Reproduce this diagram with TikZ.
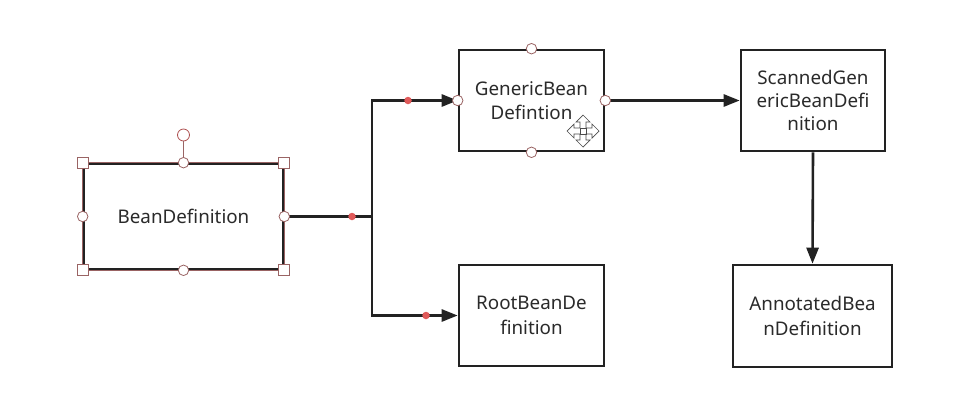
\documentclass[tikz,border=0pt]{standalone}
\usepackage{fontspec}
\setmainfont{Noto Sans}
\usetikzlibrary{arrows.meta}
\definecolor{edge}{HTML}{222222}
\definecolor{txt}{HTML}{2A2A2A}
\definecolor{handle}{HTML}{9A6464}
\definecolor{dotred}{HTML}{E05A5A}
\begin{document}
\begin{tikzpicture}[x=1pt,y=-1pt,
  box/.style={draw=edge, line width=2.6pt, fill=white, text=txt, align=center,
    font=\fontsize{18.8}{24.5}\selectfont, inner sep=2pt},
  conn/.style={draw=edge, line width=2.6pt},
  tip/.style={-{Triangle[length=16pt,width=12pt]}},
  hcirc/.style={circle, draw=handle, fill=white, line width=0.8pt, minimum size=10.5pt, inner sep=0pt},
  hsq/.style={rectangle, draw=handle, fill=white, line width=0.8pt, minimum size=11pt, inner sep=0pt},
  rdot/.style={circle, fill=dotred, minimum size=7.5pt, inner sep=0pt}]
\useasboundingbox (0,0) rectangle (974,413);
% boxes
\node[box, minimum width=199pt, minimum height=105pt] (bd) at (183.5,216.5) {BeanDefinition};
\node[box, minimum width=145pt, minimum height=101pt] (gb) at (531.5,100.5) {GenericBean\\Defintion};
\node[box, minimum width=145pt, minimum height=101pt] (rb) at (531.5,315.5) {RootBeanDe\\finition};
\node[box, minimum width=144pt, minimum height=101pt, font=\fontsize{18.8}{23}\selectfont] (sg) at (813,100.5) {ScannedGen\\ericBeanDefi\\nition};
\node[box, minimum width=159pt, minimum height=102pt] (ab) at (812.5,316) {AnnotatedBea\\nDefinition};
% connectors
\coordinate (j) at (372,216.5);
\draw[conn] (bd.east) -- (j);
\draw[conn, tip] (j) |- (gb.west);
\draw[conn, tip] (j) |- (rb.west);
\draw[conn, tip] (gb.east) -- (sg.west);
\draw[conn, tip] (sg.south) -- (ab.north);
% red midpoint dots
\node[rdot] (d1) at (352,216.5) {};
\node[rdot] (d2) at (408,100.5) {};
\node[rdot] (d3) at (426,315.5) {};
% selection outline and handles of BeanDefinition
\draw[handle, line width=0.6pt] ([xshift=-0.2pt,yshift=0.2pt]bd.north west) rectangle ([xshift=0.2pt,yshift=-0.2pt]bd.south east);
\node[hcirc, minimum size=12pt, draw=handle!80!red] (rot) at (183.5,135) {};
\draw[handle, line width=0.8pt] (rot.south) -- (bd.north);
\node[hsq] (h1) at (bd.north west) {};
\node[hsq] (h2) at (bd.north east) {};
\node[hsq] (h3) at (bd.south west) {};
\node[hsq] (h4) at (bd.south east) {};
\node[hcirc] (h5) at (bd.north) {};
\node[hcirc] (h6) at (bd.south) {};
\node[hcirc] (h7) at (bd.west) {};
\node[hcirc] (h8) at (bd.east) {};
% handles of GenericBeanDefintion
\node[hcirc] (g1) at (gb.north) {};
\node[hcirc] (g2) at (gb.south) {};
\node[hcirc] (g3) at (gb.west) {};
\node[hcirc] (g4) at (gb.east) {};
% move cursor
\begin{scope}[shift={(583,131)}]
\draw[fill=white, draw=black!70, line width=0.7pt, line join=miter]
  (0,-16) -- (7,-9) -- (3,-9) -- (3,-3) -- (9,-3) -- (9,-7) -- (16,0) -- (9,7) -- (9,3)
  -- (3,3) -- (3,9) -- (7,9) -- (0,16) -- (-7,9) -- (-3,9) -- (-3,3) -- (-9,3) -- (-9,7)
  -- (-16,0) -- (-9,-7) -- (-9,-3) -- (-3,-3) -- (-3,-9) -- (-7,-9) -- cycle;
\draw[draw=black!70, line width=0.6pt] (-3,-3) rectangle (3,3);
\end{scope}
\end{tikzpicture}
\end{document}
